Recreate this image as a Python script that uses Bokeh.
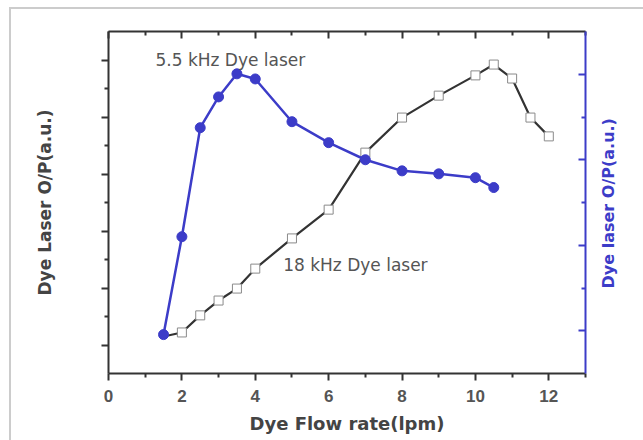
import math
from bokeh.plotting import figure
from bokeh.layouts import row
from bokeh.models import Range1d, LinearAxis, FixedTicker, ColumnDataSource
from bokeh.core.properties import value
from bokeh.embed import file_html
from bokeh.resources import INLINE

# 18 kHz dye laser (left axis)
flow_18k = [1.5, 2.0, 2.5, 3.0, 3.5, 4.0, 5.0, 6.0, 7.0, 8.0, 9.0, 10.0, 10.5, 11.0, 11.5, 12.0]
out_18k = [1.3, 1.44, 2.04, 2.56, 2.98, 3.68, 4.74, 5.75, 7.75, 8.98, 9.75, 10.46, 10.84, 10.35, 8.98, 8.32]

# 5.5 kHz dye laser (right axis)
flow_55k = [1.5, 2.0, 2.5, 3.0, 3.5, 4.0, 5.0, 6.0, 7.0, 8.0, 9.0, 10.0, 10.5]
out_55k = [0.91, 3.2, 5.75, 6.47, 7.01, 6.89, 5.89, 5.40, 5.0, 4.74, 4.67, 4.58, 4.35]

x_ticks = [0, 2, 4, 6, 8, 10, 12]
x_minor = [1, 3, 5, 7, 9, 11, 13]
left_major = [1, 3, 5, 7, 9, 11]
left_minor = [2, 4, 6, 8, 10]
right_major = [1, 3, 5, 7]
right_minor = [2, 4, 6]
right_title = ["Dye laser O/P(a.u.)"]

BLUE = "#3c3cc8"
DARK = "#333333"
GRAY_TXT = "#555555"
FONT = "Liberation Sans"
WIDE = "DejaVu Sans"
BORDER = "linear-gradient(#cccccc, #cccccc)"

p = figure(width=600, height=440, output_backend="svg", toolbar_location=None,
           x_range=Range1d(0, 13), y_range=Range1d(0, 12),
           min_border_left=108, min_border_right=15, min_border_top=31, min_border_bottom=67)
p.extra_y_ranges = {"right": Range1d(0, 8)}
p.grid.visible = False
p.outline_line_color = None
p.background_fill_color = "white"
p.border_fill_alpha = 0
# light gray scan border along the top and left of the picture
p.styles = {
    "background-color": "white",
    "background-image": f"{BORDER}, {BORDER}",
    "background-size": "600px 2px, 2px 433px",
    "background-position": "9px 7px, 9px 7px",
    "background-repeat": "no-repeat",
}


def style_ticks(ax, color, tin, tout, mtin, mtout):
    ax.axis_line_color = color
    ax.axis_line_width = 2
    ax.major_tick_line_color = color
    ax.major_tick_line_width = 2
    ax.major_tick_in = tin
    ax.major_tick_out = tout
    ax.minor_tick_line_color = color
    ax.minor_tick_line_width = 2
    ax.minor_tick_in = mtin
    ax.minor_tick_out = mtout


def hide_labels(ax, ticks):
    ax.major_label_overrides = {t: "" for t in ticks}
    ax.major_label_standoff = 0


# bottom axis
xa = p.xaxis[0]
xa.ticker = FixedTicker(ticks=x_ticks, minor_ticks=x_minor)
style_ticks(xa, DARK, 0, 7, 0, 4)
xa.major_label_text_font = FONT
xa.major_label_text_font_style = "bold"
xa.major_label_text_font_size = "17px"
xa.major_label_text_color = GRAY_TXT
xa.major_label_standoff = 9
xa.axis_label = "Dye Flow rate(lpm)"
xa.axis_label_text_font = WIDE
xa.axis_label_text_font_style = "bold"
xa.axis_label_text_font_size = "18px"
xa.axis_label_text_color = "#444444"
xa.axis_label_standoff = 8

# left axis
ya = p.yaxis[0]
ya.ticker = FixedTicker(ticks=left_major, minor_ticks=left_minor)
style_ticks(ya, DARK, 0, 7, 0, 4)
hide_labels(ya, left_major)
ya.axis_label = "Dye Laser O/P(a.u.)"
ya.axis_label_text_font = WIDE
ya.axis_label_text_font_style = "bold"
ya.axis_label_text_font_size = "17px"
ya.axis_label_text_color = "#444444"
ya.axis_label_standoff = 47

# top axis
top = LinearAxis(ticker=FixedTicker(ticks=x_ticks, minor_ticks=x_minor))
style_ticks(top, DARK, 7, 0, 4, 0)
hide_labels(top, x_ticks)
p.add_layout(top, "above")

# right axis (blue)
ra = LinearAxis(y_range_name="right", ticker=FixedTicker(ticks=right_major, minor_ticks=right_minor))
style_ticks(ra, BLUE, 7, 0, 4, 0)
hide_labels(ra, right_major)
p.add_layout(ra, "right")

src18 = ColumnDataSource(dict(x=flow_18k, y=out_18k))
src55 = ColumnDataSource(dict(x=flow_55k, y=out_55k))

p.line("x", "y", source=src18, line_color=DARK, line_width=2.2)
p.scatter("x", "y", source=ColumnDataSource(dict(x=flow_18k[1:], y=out_18k[1:])), marker="square", size=9,
          fill_color="white", line_color="#8a8a8a", line_width=1)

p.line("x", "y", source=src55, y_range_name="right", line_color=BLUE, line_width=2.5)
p.scatter("x", "y", source=src55, y_range_name="right", marker="circle", size=10,
          fill_color=BLUE, line_color=BLUE)

p.text(x=[1.28], y=[11.0], text=["5.5 kHz Dye laser"], text_font=value(WIDE),
       text_font_size="17px", text_color=GRAY_TXT, text_baseline="middle", text_align="left")
p.text(x=[4.76], y=[3.79], text=["18 kHz Dye laser"], text_font=value(WIDE),
       text_font_size="17px", text_color=GRAY_TXT, text_baseline="middle", text_align="left")

# narrow strip to the right carrying the blue right-axis title, reading bottom to top
q = figure(width=43, height=440, output_backend="svg", toolbar_location=None,
           x_range=Range1d(0, 43), y_range=Range1d(0, 440),
           x_axis_location=None, y_axis_location=None,
           min_border_left=0, min_border_right=0, min_border_top=0, min_border_bottom=0)
q.grid.visible = False
q.outline_line_color = None
q.background_fill_alpha = 0
q.border_fill_alpha = 0
q.styles = {
    "background-color": "white",
    "background-image": BORDER,
    "background-size": "43px 2px",
    "background-position": "0px 7px",
    "background-repeat": "no-repeat",
}
q.text(x=[7.5], y=[219], text=right_title, angle=math.pi / 2,
       text_font=value(WIDE), text_font_style="bold", text_font_size="16px",
       text_color=BLUE, text_align="center", text_baseline="middle")

layout = row(p, q, spacing=0)
open("out.html", "w").write(file_html(layout, INLINE))
